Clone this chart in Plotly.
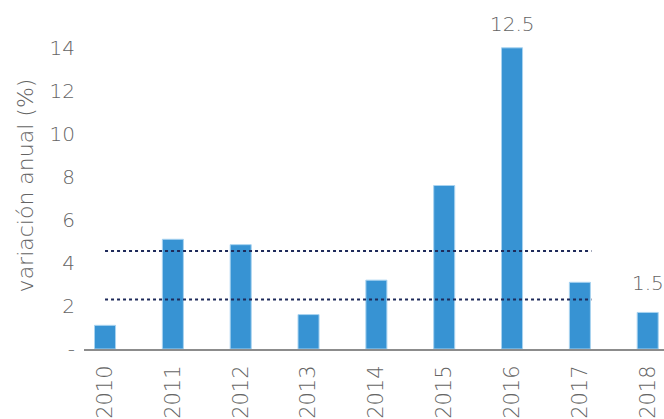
import plotly.graph_objects as go

years = ["2010", "2011", "2012", "2013", "2014", "2015", "2016", "2017", "2018"]
values = [1.1, 5.1, 4.85, 1.6, 3.2, 7.6, 14.0, 3.1, 1.7]
ref_levels = [4.55, 2.3]
ref_span = [0, 7.17]
label_years = ["2016", "2018"]
label_texts = ["12.5", "1.5"]
label_y = [15.1, 3.07]
ytick_vals = [0, 2, 4, 6, 8, 10, 12, 14]
ytick_text = ["-", "2", "4", "6", "8", "10", "12", "14"]

FONT = "DejaVu Sans"
GRAY = "#646464"
FS = 20

xs = list(range(len(years)))
fig = go.Figure()
fig.add_trace(go.Bar(
    x=xs, y=values, width=0.31,
    marker=dict(color="#3793D3", line=dict(color="#a8d3f0", width=1)),
    showlegend=False, hoverinfo="skip",
))
for lvl in ref_levels:
    fig.add_trace(go.Scatter(
        x=ref_span, y=[lvl, lvl], mode="lines",
        line=dict(color="#1e2a5a", width=2, dash="dot"),
        showlegend=False, hoverinfo="skip",
    ))
for yr, txt, yy in zip(label_years, label_texts, label_y):
    fig.add_annotation(
        x=years.index(yr), y=yy, text=txt, showarrow=False,
        font=dict(family=FONT, size=FS, color=GRAY, weight=200),
        yanchor="middle", xanchor="center",
    )

fig.update_layout(
    width=664, height=419,
    margin=dict(l=84, r=0, t=22, b=66),
    plot_bgcolor="white", paper_bgcolor="white",
    font=dict(family=FONT, size=FS, color=GRAY, weight=200),
    xaxis=dict(
        range=[-0.31, 8.24], tickmode="array", tickvals=xs, ticktext=years,
        tickangle=-90, showgrid=False, zeroline=False,
        showline=True, linecolor="#8c8c8c", linewidth=2, ticks="",
        ticklabelstandoff=6,
        tickfont=dict(family=FONT, size=21, color=GRAY, weight=200),
    ),
    yaxis=dict(
        range=[0, 15.2], tickmode="array", tickvals=ytick_vals, ticktext=ytick_text,
        showgrid=False, zeroline=False, showline=False, ticks="",
        ticklabelstandoff=8,
        tickfont=dict(family=FONT, size=FS, color=GRAY, weight=200),
        title=dict(text="variación anual (%)", standoff=9,
                   font=dict(family=FONT, size=22, color=GRAY, weight=200)),
    ),
)
fig.write_html("out.html", config={"displayModeBar": False},
               post_script="document.body.style.margin='0';")
